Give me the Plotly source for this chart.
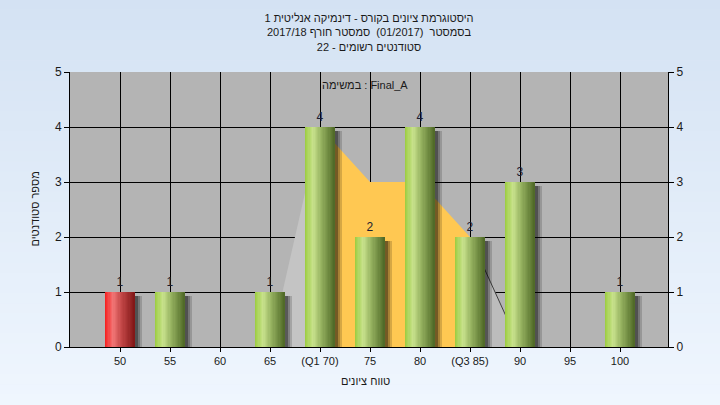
import plotly.graph_objects as go

# ---- data ----
categories = ["50", "55", "60", "65", "(Q1 70)", "75", "80", "(Q3 85)", "90", "95", "100"]
counts = [1, 1, 0, 1, 4, 2, 4, 2, 3, 0, 1]
failing = [True, False, False, False, False, False, False, False, False, False, False]

curve_x = ["65", "(Q1 70)", "75", "80", "(Q3 85)", "90"]
curve_y = [0, 4, 3, 3, 2, 0]
q1_label = "(Q1 70)"
q3_label = "(Q3 85)"

title_lines = [
    "היסטוגרמת ציונים בקורס - דינמיקה אנליטית 1",
    "בסמסטר  (01/2017)  סמסטר חורף 2017/18",
    "סטודנטים רשומים - 22",
]
legend_text = "במשימה : Final_A"
x_title = "טווח ציונים"
y_title = "מספר סטודנטים"

FONT = "Liberation Sans, Arial, DejaVu Sans, sans-serif"

# ---- layout geometry ----
W, H = 720, 405
ML, MR, MT, MB = 70, 52, 72, 58
PW, PH = W - ML - MR, H - MT - MB


def lerp(c1, c2, t):
    return tuple(int(round(a + (b - a) * t)) for a, b in zip(c1, c2))


def grad(stops, t):
    for (p0, c0), (p1, c1) in zip(stops, stops[1:]):
        if p0 <= t <= p1:
            return lerp(c0, c1, (t - p0) / (p1 - p0))
    return stops[-1][1]


green_stops = [(0.0, (155, 204, 62)), (0.28, (200, 226, 140)), (0.55, (150, 178, 96)), (1.0, (78, 104, 38))]
red_stops = [(0.0, (246, 28, 28)), (0.28, (242, 118, 118)), (0.55, (196, 72, 72)), (1.0, (128, 22, 22))]

fig = go.Figure()

# distribution area (base subplot, drawn beneath the bars)
i_q1 = curve_x.index(q1_label)
i_q3 = curve_x.index(q3_label)
fig.add_trace(go.Scatter(x=curve_x[:i_q1 + 1], y=curve_y[:i_q1 + 1], mode="lines",
                         fill="tozeroy", fillcolor="#c4c4c4", line=dict(width=0),
                         hoverinfo="skip", showlegend=False))
fig.add_trace(go.Scatter(x=curve_x[i_q3:], y=curve_y[i_q3:], mode="lines",
                         fill="tozeroy", fillcolor="#bcbcbc", line=dict(width=1, color="#404040"),
                         hoverinfo="skip", showlegend=False))
fig.add_trace(go.Scatter(x=curve_x[i_q1:i_q3 + 1], y=curve_y[i_q1:i_q3 + 1], mode="lines",
                         fill="tozeroy", fillcolor="#ffc852", line=dict(width=0),
                         hoverinfo="skip", showlegend=False))

BW = 0.6
# shadows
for off, alpha in [(0.14, 0.16), (0.1, 0.22), (0.06, 0.3)]:
    fig.add_trace(go.Bar(x=categories, y=counts, base=-0.08, offset=-BW / 2 + off, width=BW,
                         yaxis="y2",
                         marker=dict(color=f"rgba(0,0,0,{alpha})", line=dict(width=0)),
                         hoverinfo="skip", showlegend=False))

# gradient bars built from vertical strips
N = 24
sw = BW / N
for k in range(N):
    t = (k + 0.5) / N
    g = "rgb(%d,%d,%d)" % grad(green_stops, t)
    r = "rgb(%d,%d,%d)" % grad(red_stops, t)
    cols = [r if f else g for f in failing]
    fig.add_trace(go.Bar(x=categories, y=counts, offset=-BW / 2 + k * sw, width=sw * 1.08,
                         yaxis="y2",
                         marker=dict(color=cols, line=dict(width=0)),
                         hoverinfo="skip", showlegend=False))

# value labels carried by a transparent full-width bar
fig.add_trace(go.Bar(x=categories, y=counts, offset=-BW / 2, width=BW, yaxis="y2",
                     text=[str(v) if v > 0 else "" for v in counts],
                     textposition="outside", constraintext="none", cliponaxis=False,
                     textfont=dict(family=FONT, size=12, color="#1c1c30"),
                     marker=dict(color="rgba(0,0,0,0)", line=dict(width=0)),
                     hoverinfo="skip", showlegend=False))

# background gradient bands (paper)
shapes = []
x0p, x1p = -ML / PW, 1 + MR / PW
ytop, ybot = 1 + MT / PH, -MB / PH
NB = 40
top_c, bot_c = (212, 226, 243), (239, 246, 254)
for i in range(NB):
    a = ytop + (ybot - ytop) * i / NB
    b = ytop + (ybot - ytop) * (i + 1) / NB
    c = lerp(top_c, bot_c, i / (NB - 1))
    shapes.append(dict(type="rect", xref="paper", yref="paper", x0=x0p, x1=x1p, y0=b, y1=a + 0.002,
                       fillcolor="rgb(%d,%d,%d)" % c, line=dict(width=0), layer="below"))
shapes.append(dict(type="rect", xref="paper", yref="paper", x0=0, x1=1, y0=0, y1=1,
                   fillcolor="#b4b4b4", line=dict(width=0), layer="below"))

axis_common = dict(showline=True, linecolor="black", linewidth=1, ticks="outside", ticklen=5,
                   tickcolor="black", tickfont=dict(family=FONT, size=12, color="#1a1a1a"))

fig.update_layout(
    width=W, height=H,
    margin=dict(l=ML, r=MR, t=MT, b=MB),
    paper_bgcolor="#e4edf8",
    plot_bgcolor="#b4b4b4",
    barmode="overlay",
    bargap=0,
    shapes=shapes,
    title=dict(text="<br>".join(title_lines), x=0.5, xanchor="center", xref="paper",
               y=1 - 22 / H, yanchor="top", yref="container",
               font=dict(family=FONT, size=11, color="#1a1a1a")),
    xaxis=dict(type="category", categoryorder="array", categoryarray=categories,
               range=[-1, 10.96], showgrid=True, gridcolor="black", gridwidth=1,
               zeroline=False, tickfont=dict(family=FONT, size=11, color="#1a1a1a"),
               showline=True, linecolor="black", ticks="outside", ticklen=4, tickcolor="black"),
    yaxis=dict(range=[0, 5], dtick=1, showgrid=True, gridcolor="black", gridwidth=1,
               zeroline=False, **axis_common),
    yaxis2=dict(range=[0, 5], dtick=1, overlaying="y", side="right", showgrid=False,
                zeroline=False, **axis_common),
    annotations=[
        dict(text=legend_text, xref="paper", yref="paper", x=(365 - ML) / PW, y=1 - (85 - MT) / PH,
             xanchor="center", yanchor="middle",
             showarrow=False, font=dict(family=FONT, size=11, color="#1a1a1a")),
        dict(text=x_title, xref="paper", yref="paper", x=(365 - ML) / PW, y=-(381 - MT - PH) / PH,
             xanchor="center", yanchor="middle",
             showarrow=False, font=dict(family=FONT, size=11, color="#1a1a1a")),
        dict(text=y_title, xref="paper", yref="paper", x=(34 - ML) / PW, y=0.5, textangle=-90,
             xanchor="center", yanchor="middle",
             showarrow=False, font=dict(family=FONT, size=11, color="#1a1a1a")),
    ],
)

fig.write_html("out.html", config={"displayModeBar": False},
               post_script="document.body.style.margin='0';")
